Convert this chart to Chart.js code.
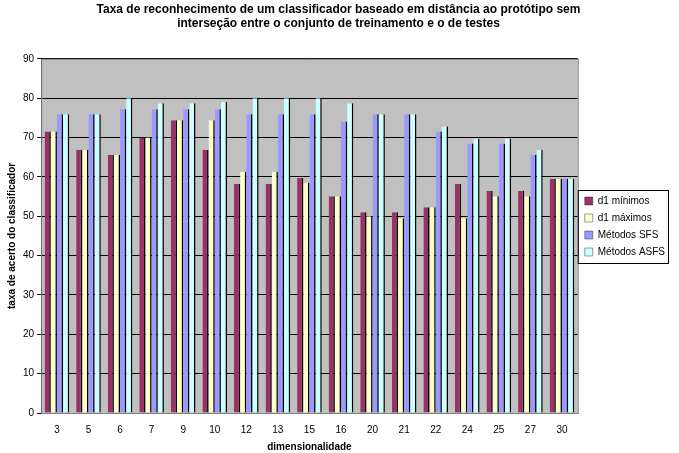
<!DOCTYPE html>
<html><head><meta charset="utf-8">
<script src="https://cdn.jsdelivr.net/npm/chart.js@4"></script>
<style>body{margin:0;background:#fff}#w{width:679px;height:453px;position:relative}</style>
</head><body><div id="w"><canvas id="c"></canvas></div>
<script>
const categories = ['3','5','6','7','9','10','12','13','15','16','20','21','22','24','25','27','30'];
const dMin = [71.5,66.9,65.6,70,74.4,66.9,58.2,58.2,59.7,55.1,51,51,52.3,58.2,56.4,56.4,59.5];
const dMax = [71.5,66.9,65.6,70,74.4,74.4,61.3,61.3,58.5,55.1,50,49.5,52.3,49.5,55.1,55.1,59.5];
const sfs = [75.9,75.9,77.2,77.2,77.2,77.2,75.9,75.9,75.9,74.1,75.9,75.9,71.5,68.5,68.5,65.6,59.5];
const asfs = [75.9,75.9,80,78.7,78.7,79,80,80,80,78.7,75.9,75.9,72.8,69.7,69.7,66.9,59.5];
const seriesNames = ['d1 mínimos','d1 máximos','Métodos SFS','Métodos ASFS'];
const colors = ['#993366','#ffffcc','#9999ff','#ccffff'];
const yTicks = [0,10,20,30,40,50,60,70,80,90];
const bg = {id:'bg',beforeDraw(ch){const a=ch.chartArea,x=ch.ctx;x.save();x.fillStyle='#c0c0c0';x.fillRect(a.left,a.top,a.right-a.left,a.bottom-a.top);x.restore();},
 afterDraw(ch){const a=ch.chartArea,x=ch.ctx,l=ch.legend;x.save();x.strokeStyle='#808080';x.lineWidth=1;x.strokeRect(a.left+0.5,a.top+0.5,a.right-a.left,a.bottom-a.top);
  if(l&&l.legendHitBoxes&&l.legendHitBoxes.length){const b=l.legendHitBoxes,top=b[0].top-6,bot=b[b.length-1].top+b[b.length-1].height+6;let r=0;b.forEach(h=>r=Math.max(r,h.left+h.width));
   x.strokeStyle='#000';x.strokeRect(b[0].left-6.5,top+0.5,r-b[0].left+10,bot-top);}
  x.restore();}};
new Chart(document.getElementById('c'),{
 type:'bar',
 data:{labels:categories,datasets:[dMin,dMax,sfs,asfs].map((d,i)=>({label:seriesNames[i],data:d,backgroundColor:colors[i],borderColor:'#000',borderWidth:{top:0,left:0,right:1.5,bottom:0},categoryPercentage:0.78,barPercentage:1}))},
 options:{responsive:true,maintainAspectRatio:false,animation:false,
  layout:{padding:{left:2,right:4,top:0,bottom:0}},
  plugins:{
   title:{display:true,text:['Taxa de reconhecimento de um classificador baseado em distância ao protótipo sem','interseção entre o conjunto de treinamento e o de testes'],font:{family:'Arial, Liberation Sans',size:12,weight:'bold'},color:'#000',padding:{top:2,bottom:28}},
   legend:{position:'right',align:'center',labels:{boxWidth:8,boxHeight:8,font:{family:'Arial, Liberation Sans',size:10},color:'#000',padding:7}},
   tooltip:{enabled:false}},
  scales:{
   x:{grid:{display:false,drawTicks:true},border:{color:'#000'},ticks:{font:{family:'Arial, Liberation Sans',size:10},color:'#000'},
      title:{display:true,text:'dimensionalidade',font:{family:'Arial, Liberation Sans',size:10,weight:'bold'},color:'#000',padding:{top:2,bottom:0}}},
   y:{min:0,max:90,afterBuildTicks:s=>{s.ticks=yTicks.map(v=>({value:v}));},grid:{color:'#000',lineWidth:1,tickLength:4},border:{color:'#000'},
      ticks:{font:{family:'Arial, Liberation Sans',size:10},color:'#000',padding:3},
      title:{display:true,text:'taxa de acerto do classificador',font:{family:'Arial, Liberation Sans',size:10,weight:'bold'},color:'#000',padding:{bottom:2}}}
  }},
 plugins:[bg]
});
</script></body></html>
